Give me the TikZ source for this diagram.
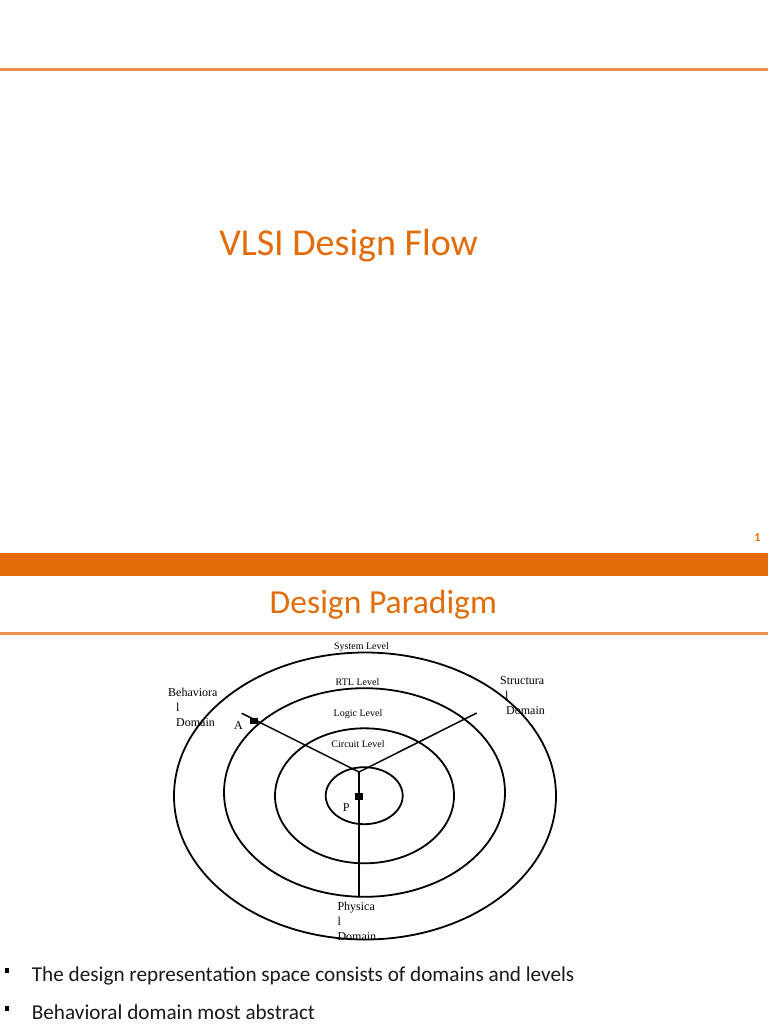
\documentclass[tikz,border=0pt]{standalone}
\usepackage{fontspec}
\setmainfont{Liberation Serif}
\newfontfamily\calib{Carlito}
\definecolor{slideorange}{HTML}{E36C09}
\definecolor{lineorange}{HTML}{EE9450}
\definecolor{bodytext}{HTML}{1A1A1A}
\begin{document}
\begin{tikzpicture}[x=1pt,y=-1pt,
  ring/.style={line width=1.8pt},
  axis/.style={line width=1.5pt},
  lvl/.style={font=\fontsize{10}{12}\selectfont, inner sep=0pt, anchor=base},
  dom/.style={font=\fontsize{12}{15}\selectfont, inner sep=0pt, anchor=base west, align=left},
  marker/.style={fill=black, draw=none, inner sep=0pt},
  title/.style={font=\calib\fontsize{38}{40}\selectfont, text=slideorange, inner sep=0pt, anchor=base},
  bullettext/.style={font=\calib\fontsize{21.2}{24}\selectfont, text=bodytext, inner sep=0pt, anchor=base west},
  bulletmark/.style={fill=black, minimum width=4.5pt, minimum height=5.5pt, inner sep=0pt}]
\useasboundingbox (0,0) rectangle (768,1024);
\fill[white] (0,0) rectangle (768,1024);

% ---- slide 1 ----
\draw[lineorange, line width=3pt] (0,70) -- (768,70);
\node[title] (t1) at (348.6,255) {VLSI Design Flow};
\node[font=\calib\bfseries\fontsize{12}{14}\selectfont, text=slideorange, inner sep=0pt, anchor=base] (pg) at (757.5,541.5) {1};

% ---- slide 2 ----
\fill[slideorange] (0,552.5) rectangle (768,575.5);
\node[font=\calib\fontsize{33.6}{36}\selectfont, text=slideorange, inner sep=0pt, anchor=base] (t2) at (383.3,613.3) {Design Paradigm};
\draw[lineorange, line width=3pt] (0,633) -- (768,633);

% rings
\draw[ring] (365,796) ellipse [x radius=191, y radius=143.5];
\draw[ring] (364.5,792.5) ellipse [x radius=140.5, y radius=104.3];
\draw[ring] (364.5,795.8) ellipse [x radius=89.5, y radius=67.5];
\draw[ring] (364.2,795.7) ellipse [x radius=38.5, y radius=28.5];

% axes
\coordinate (hub) at (359,772);
\coordinate (bend) at (241.7,713.3);
\coordinate (send) at (476.7,713);
\coordinate (pend) at (359,897);
\draw[axis] (bend) -- (hub) -- (send);
\draw[axis] (hub) -- (pend);

% markers
\node[marker, minimum width=8.3pt, minimum height=6pt] (ma) at (254.2,721) {};
\node[marker, minimum width=8.3pt, minimum height=7pt] (mp) at (359.2,796.7) {};

% level labels
\node[lvl] (sys) at (361.5,649.5) {System Level};
\node[lvl] (rtl) at (357.5,685) {RTL Level};
\node[lvl] (log) at (358,716.5) {Logic Level};
\node[lvl] (cir) at (358,747) {Circuit Level};

% domain labels (anchor = baseline of the last line)
\node[dom] (beh) at (168,726.5) {Behaviora\\\hspace*{8pt}l\\\hspace*{8pt}Domain};
\node[dom] (str) at (500,714) {Structura\\\hspace*{5pt}l\\\hspace*{6pt}Domain};
\node[dom] (phy) at (337.3,940) {Physica\\l\\Domain};
\node[dom] (la) at (234,729.3) {A};
\node[dom] (lp) at (342.7,811) {P};

% bullets
\node[bulletmark] (b1) at (7,970.5) {};
\node[bullettext] (bt1) at (31.7,981.7) {The design representation space consists of domains and levels};
\node[bulletmark] (b2) at (7,1008.5) {};
\node[bullettext] (bt2) at (31.7,1019) {Behavioral domain most abstract};
\end{tikzpicture}
\end{document}
